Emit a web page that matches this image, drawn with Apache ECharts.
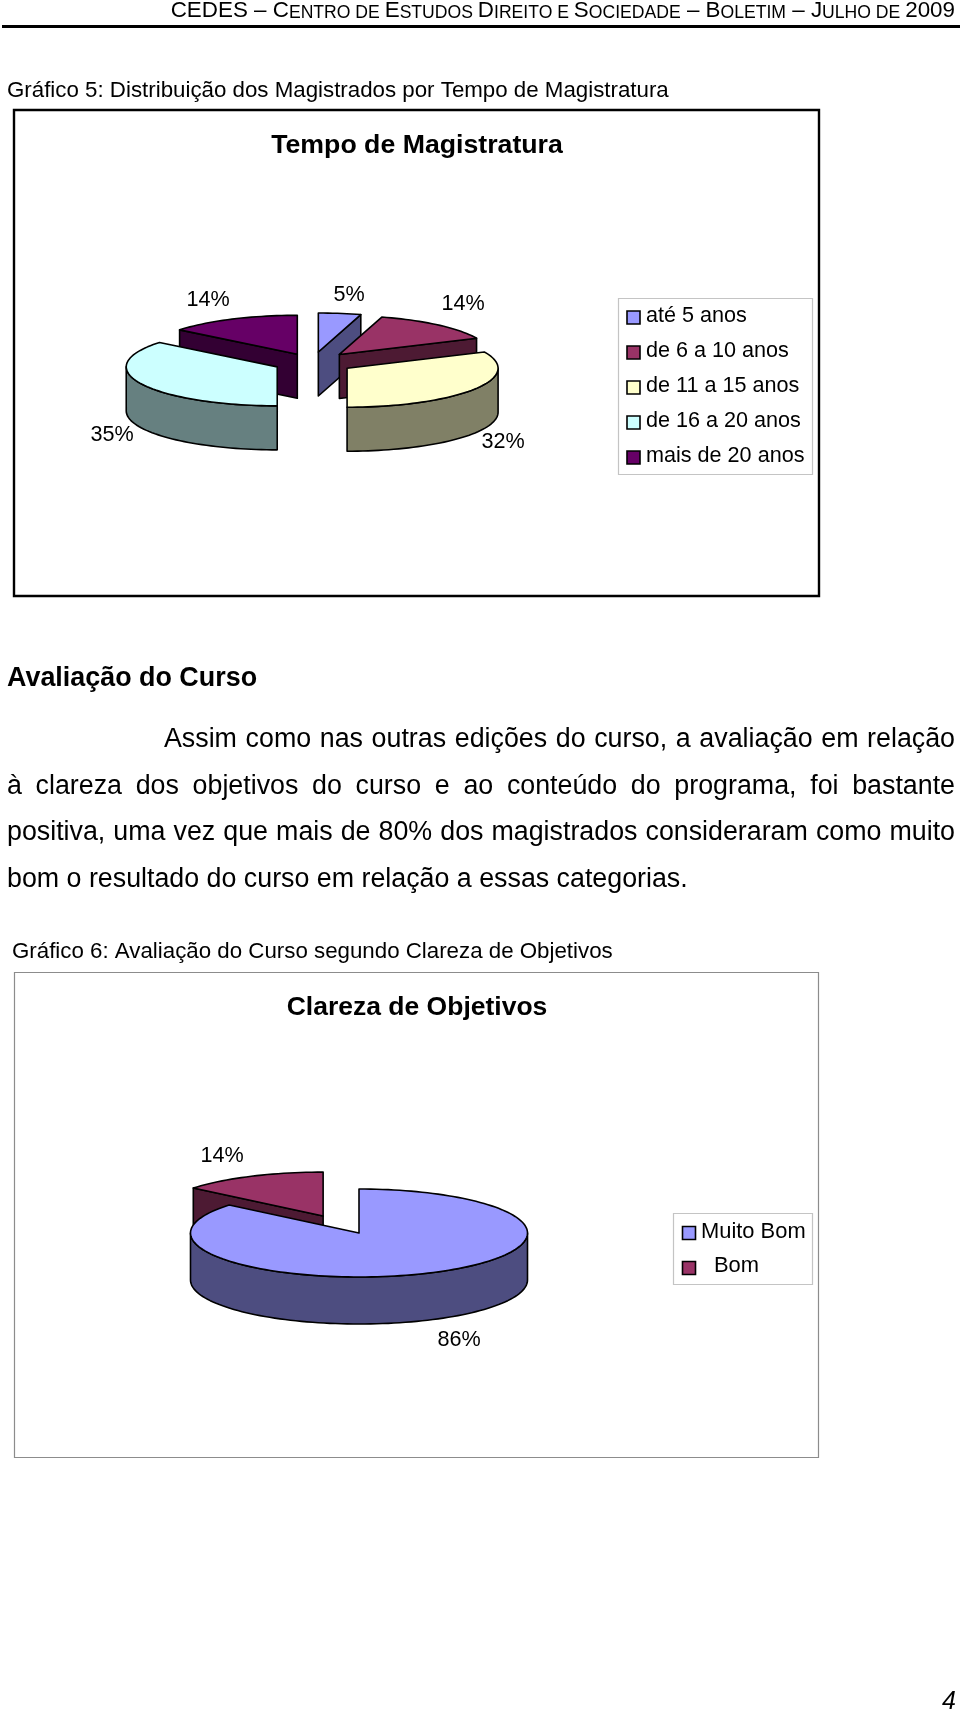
<!DOCTYPE html>
<html><head><meta charset="utf-8">
<style>html,body{margin:0;padding:0;background:#fff}#c{width:960px;height:1714px}</style>
<script src="https://cdn.jsdelivr.net/npm/echarts@6/dist/echarts.min.js"></script>
</head><body><div id="c"></div>
<script>
// ---- data ----
const tempoCategories = ['até 5 anos','de 6 a 10 anos','de 11 a 15 anos','de 16 a 20 anos','mais de 20 anos'];
const tempoValues = [4.5, 13.5, 31.6, 35.49, 14.11];
const clarezaCategories = ['Muito Bom','Bom'];
const clarezaValues = [86, 14];
const headerRuns = [['CEDES – ',1],['C',1],['ENTRO DE ',0],['E',1],['STUDOS ',0],['D',1],['IREITO E ',0],['S',1],['OCIEDADE',0],[' – ',1],['B',1],['OLETIM',0],[' – ',1],['J',1],['ULHO DE ',0],['2009',1]];
const paragraph = [
 'Assim como nas outras edições do curso, a avaliação em relação',
 'à clareza dos objetivos do curso e ao conteúdo do programa, foi bastante',
 'positiva, uma vez que mais de 80% dos magistrados consideraram como muito',
 'bom o resultado do curso em relação a essas categorias.'
];
// ---- styles / layout ----
const FONT = '"Liberation Sans", Arial, sans-serif';
const tops = ['#9999FF','#993366','#FFFFCC','#CCFFFF','#660066'];
const sides = ['#4D4D80','#4D1A33','#808066','#668080','#330033'];
const tempoLayout = {cx:312.5,cy:362.5,rx:151,ry:39,depth:44,explode:[.272,.272,.272,.259,.233],eyScale:1,
  labels:[[349,295],[463,304],[503,442],[112,435],[208,300]]};
const clarezaLayout = {cx:359,cy:1233,rx:168.5,ry:44,depth:47,explode:[0,.5],eyScale:.85,
  labels:[[459,1340],[222,1156]]};

const ctx = document.createElement('canvas').getContext('2d');
function tw(s, size, bold){ ctx.font=(bold?'bold ':'')+size+'px "Liberation Sans"'; return ctx.measureText(s).width; }
function txt(s,x,y,size,o){ o=o||{}; return {type:'text',silent:true,z:20,style:Object.assign({text:s,x:x,y:y,fontFamily:FONT,fontSize:size,
  fontWeight:o.bold?'bold':'normal',fontStyle:o.italic?'italic':'normal',fill:'#000',align:o.align||'left',verticalAlign:'middle'})}; }

function pieRows(values){
  const total = values.reduce((a,b)=>a+b,0); let acc=0;
  const rows = values.map((v,i)=>{ const s=acc/total*360; acc+=v; const e=acc/total*360; return [v,s,e,i]; });
  // painter's order: slices further back first
  return rows.sort((a,b)=>Math.cos((b[1]+b[2])/360*Math.PI)-Math.cos((a[1]+a[2])/360*Math.PI));
}
function pieSeries(values, L, name){
  return {type:'custom',name:name,coordinateSystem:'none',silent:true,animation:false,
    data:pieRows(values),
    renderItem:function(params,api){
      const s=api.value(1), e=api.value(2), i=api.value(3), mid=(s+e)/2*Math.PI/180, ex=L.explode[i];
      const ax=L.cx+ex*L.rx*Math.sin(mid), ay=L.cy-ex*L.eyScale*L.ry*Math.cos(mid);
      const pt=(deg,dz)=>[ax+L.rx*Math.sin(deg*Math.PI/180), ay-L.ry*Math.cos(deg*Math.PI/180)+(dz||0)];
      const arc=(a,b,dz)=>{const r=[];const n=Math.max(2,Math.ceil(Math.abs(b-a)/2));for(let k=0;k<=n;k++)r.push(pt(a+(b-a)*k/n,dz));return r;};
      const st={stroke:'#000',lineWidth:1.6,lineJoin:'round'};
      const kids=[];
      const poly=(pts,fill)=>kids.push({type:'polygon',shape:{points:pts},style:Object.assign({fill:fill},st)});
      const wall=(deg)=>poly([[ax,ay],pt(deg),pt(deg,L.depth),[ax,ay+L.depth]],sides[i]);
      if(Math.sin(s*Math.PI/180)<-1e-6) wall(s);
      if(e<179 && Math.sin(e*Math.PI/180)>1e-6) wall(e);
      const r0=Math.max(s,90), r1=Math.min(e,270);
      if(r1>r0) poly(arc(r0,r1,0).concat(arc(r1,r0,L.depth)),sides[i]);
      poly([[ax,ay]].concat(arc(s,e,0)),tops[i]);
      return {type:'group',children:kids};
    }};
}
function box(x,y,w,h,stroke,lw){ return {type:'rect',silent:true,z:1,shape:{x:x,y:y,width:w,height:h},style:{fill:'transparent',stroke:stroke,lineWidth:lw}}; }
function swatch(x,y,color){ return {type:'rect',silent:true,z:20,shape:{x:x,y:y-6.5,width:13,height:13},style:{fill:color,stroke:'#000',lineWidth:1.6}}; }

const g=[];
// header
(function(){
  const big=22.4, small=17.6, right=955, base=19; let w=0;
  headerRuns.forEach(r=>w+=tw(r[0],r[1]?big:small));
  let x=right-w;
  headerRuns.forEach(r=>{const sz=r[1]?big:small; g.push(txt(r[0],x,base-0.35*sz,sz)); x+=tw(r[0],sz);});
})();
g.push({type:'rect',silent:true,shape:{x:2,y:25,width:958,height:3},style:{fill:'#000'}});
g.push(txt('Gráfico 5: Distribuição dos Magistrados por Tempo de Magistratura',7,90.5,22.3));
g.push(box(14,110,805,486,'#000',2.4));
// legend 1
g.push(box(618.5,298.5,194,176,'#c4c4c4',1.2));
tempoCategories.forEach((c,i)=>{const y=317.5+i*35; g.push(swatch(627,y,tops[i])); g.push(txt(c,646,y-1,21.6));});
// pie labels
tempoValues.forEach((v,i)=>g.push(txt(Math.round(v)+'%',tempoLayout.labels[i][0],tempoLayout.labels[i][1],21.6,{align:'center'})));
// section
g.push(txt('Avaliação do Curso',7,679,26.9,{bold:true}));
const PS=26.8, lineY=[740,787,833,880], lineX=[164,7,7,7], right=955;
paragraph.forEach((line,i)=>{
  const words=line.split(' '); const natural=words.reduce((a,w)=>a+tw(w,PS),0);
  const sp = i<3 ? (right-lineX[i]-natural)/(words.length-1) : tw(' ',PS);
  let x=lineX[i];
  words.forEach(w=>{g.push(txt(w,x,lineY[i],PS)); x+=tw(w,PS)+sp;});
});
g.push(txt('Gráfico 6: Avaliação do Curso segundo Clareza de Objetivos',12,952,22.3));
g.push(box(14.5,972.5,804,485,'#8c8c8c',1.2));
// legend 2
g.push(box(673.5,1213.5,139,71,'#c4c4c4',1.2));
g.push(swatch(682.5,1233,tops[0])); g.push(txt(clarezaCategories[0],701,1232,21.9));
g.push(swatch(682.5,1268,tops[1])); g.push(txt(clarezaCategories[1],714,1266,21.9));
clarezaValues.forEach((v,i)=>g.push(txt(v+'%',clarezaLayout.labels[i][0],clarezaLayout.labels[i][1],21.6,{align:'center'})));
g.push(txt('4',949,1702,25,{italic:true,align:'center'}));

const chart=echarts.init(document.getElementById('c'),null,{renderer:'canvas',width:960,height:1714});
chart.setOption({
  backgroundColor:'#fff',animation:false,
  title:[
    {text:'Tempo de Magistratura',left:412,top:141,textAlign:'center',textVerticalAlign:'middle',textStyle:{fontFamily:FONT,fontSize:26.7,fontWeight:'bold',color:'#000'}},
    {text:'Clareza de Objetivos',left:412,top:1003,textAlign:'center',textVerticalAlign:'middle',textStyle:{fontFamily:FONT,fontSize:26.5,fontWeight:'bold',color:'#000'}}
  ],
  graphic:{elements:g},
  series:[pieSeries(tempoValues,tempoLayout,'Tempo de Magistratura'),pieSeries(clarezaValues,clarezaLayout,'Clareza de Objetivos')]
});
</script></body></html>
